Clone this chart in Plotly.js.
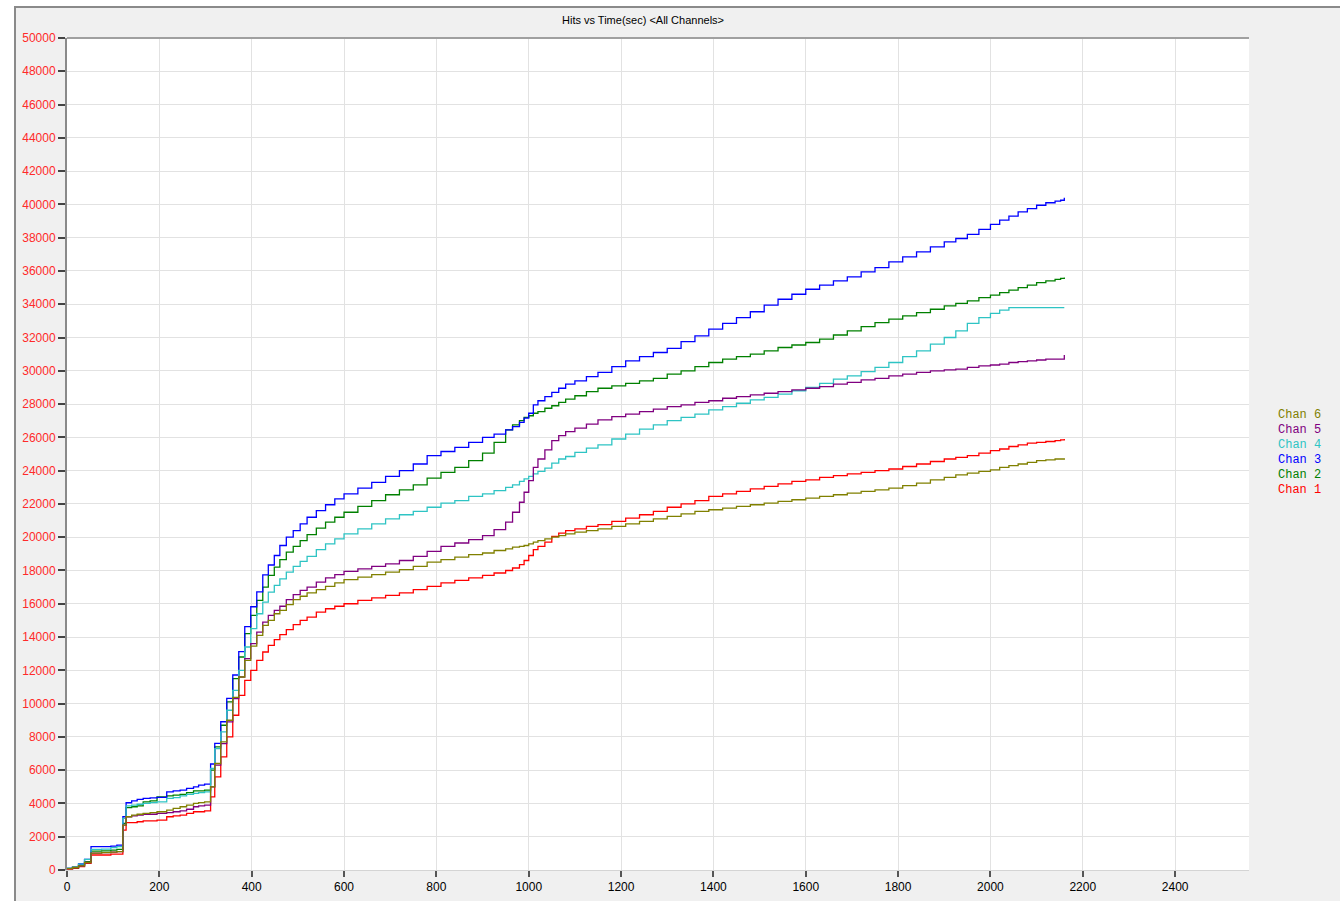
<!DOCTYPE html>
<html>
<head>
<meta charset="utf-8">
<script src="https://cdn.plot.ly/plotly-3.0.1.min.js"></script>
<style>
html,body{margin:0;padding:0;background:#fff;}
#chart{width:1340px;height:901px;}
</style>
</head>
<body>
<div id="chart"></div>
<script>
// Time (sec)
const timeSec = [0,12,25,38,52,75,95,108,121,128,140,152,165,180,195,216,230,245,259,274,285,298,
311,320,333,346,359,372,385,398,411,424,436,449,461,475,490,505,520,540,560,580,600,
630,660,690,720,750,780,810,840,870,900,925,950,965,980,990,1000,1010,1020,1035,1050,1065,1080,1100,
1125,1150,1180,1210,1240,1270,1300,1330,1360,1390,1420,1450,1480,1510,1540,1570,1600,1630,1660,1690,
1720,1750,1780,1810,1840,1870,1900,1925,1950,1975,2000,2020,2040,2060,2080,2100,2120,2140,2152,2160];

const chan1 = [60,100,200,400,900,900,950,960,2400,2850,2850,2900,2950,2950,3000,3200,3250,3300,3400,3500,3500,3550,
4400,5600,6800,8000,9300,10500,11400,12000,12600,13100,13500,13850,14150,14450,14750,15000,15200,15500,15700,15850,16000,
16200,16350,16500,16650,16850,17050,17250,17400,17550,17700,17850,18000,18150,18350,18600,18900,19250,19450,19700,20050,20250,20400,20500,
20650,20750,20950,21150,21350,21550,21800,22000,22200,22450,22600,22750,22900,23050,23200,23350,23450,23600,23700,23800,
23900,24000,24100,24250,24400,24550,24700,24800,24900,25050,25200,25300,25450,25550,25650,25700,25750,25800,25850,25900];

const chan2 = [100,150,300,500,1140,1150,1200,1240,2800,3750,3800,3850,4100,4150,4400,4450,4500,4550,4650,4750,4750,4800,
6000,7400,8700,10100,11500,12800,14200,15300,16200,17000,17700,18200,18650,19100,19450,19800,20150,20550,20900,21200,21500,
21850,22200,22550,22850,23150,23550,23900,24200,24600,25050,25700,26450,26750,27000,27200,27300,27450,27550,27750,27900,28100,28300,28500,
28750,28950,29100,29250,29400,29550,29800,30000,30250,30500,30700,30850,31000,31200,31400,31550,31700,31900,32150,32400,
32650,32900,33100,33300,33500,33700,33900,34050,34200,34400,34550,34700,34850,35000,35150,35300,35400,35500,35550,35600];

const chan3 = [100,200,360,640,1400,1400,1440,1500,3200,4040,4160,4240,4300,4330,4360,4700,4750,4800,4900,5000,5100,5160,
6370,7610,8910,10310,11720,13120,14620,15820,16720,17730,18330,18900,19500,20000,20400,20800,21200,21600,21950,22300,22600,
22950,23300,23650,24000,24400,24900,25150,25400,25700,26000,26200,26450,26650,26900,27150,27450,27950,28200,28450,28700,28950,29200,29400,
29650,29900,30250,30600,30850,31100,31350,31750,32100,32500,32850,33200,33550,33950,34300,34600,34900,35150,35400,35650,
35950,36200,36550,36850,37150,37450,37750,37950,38200,38500,38800,39050,39300,39550,39750,39950,40100,40200,40250,40400];

const chan4 = [100,200,350,640,1240,1250,1350,1400,3100,3850,3900,3950,4000,4050,4100,4300,4350,4450,4550,4600,4650,4700,
6100,7300,8300,9600,10800,12000,13400,14500,15400,16100,16700,17100,17500,17900,18250,18550,18850,19250,19600,19900,20200,
20500,20800,21100,21350,21550,21800,22050,22200,22450,22600,22800,23000,23150,23350,23500,23650,23800,23950,24150,24450,24700,24850,25100,
25350,25550,25900,26200,26500,26750,27000,27200,27400,27650,27850,28050,28250,28400,28600,28800,29000,29250,29500,29700,
29950,30200,30500,30850,31200,31600,32000,32400,32850,33200,33450,33650,33800,33800,33800,33800,33800,33800,33800,33800];

const chan5 = [80,150,250,450,1020,1050,1080,1100,2700,3200,3250,3300,3350,3350,3400,3450,3500,3550,3650,3800,3850,3900,
5000,6300,7600,8900,10300,11600,12700,13600,14300,14900,15300,15600,15850,16250,16550,16800,17000,17300,17550,17750,17950,
18100,18250,18400,18600,18850,19150,19450,19650,19850,20100,20450,20900,21500,22100,22700,23400,24200,24700,25250,25800,26100,26350,26550,
26800,27050,27250,27400,27550,27700,27850,27950,28100,28200,28350,28450,28550,28650,28750,28850,28950,29050,29200,29300,
29450,29550,29700,29800,29900,30000,30050,30100,30200,30300,30350,30400,30500,30550,30600,30650,30700,30700,30700,30950];

const chan6 = [80,150,250,450,1020,1050,1080,1100,2700,3200,3300,3350,3400,3450,3500,3600,3700,3800,3900,4000,4050,4100,
5000,6400,7700,9000,10380,11600,12600,13450,14100,14700,15000,15400,15600,15950,16250,16450,16650,16850,17050,17250,17450,
17600,17750,17900,18050,18250,18500,18650,18800,18950,19050,19200,19300,19400,19450,19500,19600,19700,19800,19900,20000,20100,20200,20300,
20400,20500,20650,20800,20950,21100,21250,21400,21550,21650,21750,21850,21950,22050,22150,22250,22350,22450,22550,22650,
22750,22850,22950,23100,23250,23450,23600,23750,23850,23950,24050,24200,24300,24400,24500,24600,24650,24700,24700,24750];

const seriesNames = ['Chan 1','Chan 2','Chan 3','Chan 4','Chan 5','Chan 6'];
const seriesColors = ['#ff0000','#008000','#0000ff','#2ec4c4','#800080','#808000'];
const seriesData = [chan1, chan2, chan3, chan4, chan5, chan6];

const traces = seriesData.map((ys, i) => ({
  x: timeSec, y: ys, type: 'scatter', mode: 'lines', name: seriesNames[i],
  line: {color: seriesColors[i], width: 1.3, shape: 'hv'}, hoverinfo: 'x+y+name'
}));

// geometry helpers (pixel -> paper) for decorations only
const L = 67, R = 1249, T = 38, B = 870;
const px = x => (x - L) / (R - L);
const py = y => (B - y) / (B - T);

const annotations = [{
  text: 'Hits vs Time(sec) &lt;All Channels&gt;', xref: 'paper', yref: 'paper',
  x: px(643), y: py(20), xanchor: 'center', yanchor: 'middle', showarrow: false,
  font: {family: 'Liberation Sans, Arial, sans-serif', size: 11, color: '#000'}
}];
// legend as coloured text, top to bottom Chan 6 .. Chan 1
for (let k = 5; k >= 0; k--) {
  const row = 5 - k;
  annotations.push({
    text: seriesNames[k], xref: 'paper', yref: 'paper',
    x: px(1276), y: py(415 + row * 15), xanchor: 'left', yanchor: 'middle', showarrow: false,
    font: {family: 'Liberation Mono, Courier New, monospace', size: 12, color: seriesColors[k]}
  });
}

const shapes = [
  // white margins top & left of the widget frame
  {type: 'rect', xref: 'paper', yref: 'paper', x0: px(0), x1: px(1340), y0: py(0), y1: py(6), fillcolor: '#ffffff', line: {width: 0}, layer: 'below'},
  {type: 'rect', xref: 'paper', yref: 'paper', x0: px(0), x1: px(14), y0: py(0), y1: py(901), fillcolor: '#ffffff', line: {width: 0}, layer: 'below'},
  // frame lines
  {type: 'line', xref: 'paper', yref: 'paper', x0: px(14), x1: px(1340), y0: py(7), y1: py(7), line: {color: '#8a8a8a', width: 2}},
  {type: 'line', xref: 'paper', yref: 'paper', x0: px(15), x1: px(15), y0: py(7), y1: py(901), line: {color: '#8a8a8a', width: 2}},
  // plot top border
  {type: 'line', xref: 'paper', yref: 'paper', x0: 0, x1: 1, y0: 1, y1: 1, line: {color: '#a0a0a0', width: 2}}
];

const layout = {
  width: 1340, height: 901,
  margin: {l: L, r: 1340 - R, t: T, b: 901 - B, pad: 0},
  paper_bgcolor: '#f0f0f0', plot_bgcolor: '#ffffff',
  showlegend: false,
  font: {family: 'Liberation Sans, Arial, sans-serif', size: 12, color: '#000'},
  xaxis: {
    range: [0, 2560], dtick: 200, tick0: 0, showgrid: true, gridcolor: '#e2e2e2', gridwidth: 1,
    zeroline: false, showline: true, linecolor: '#d4d4d4', linewidth: 1,
    ticks: 'outside', ticklen: 6, tickwidth: 2, tickcolor: '#555555',
    tickfont: {family: 'Liberation Sans, Arial, sans-serif', size: 12, color: '#000'}
  },
  yaxis: {
    range: [0, 50000], dtick: 2000, tick0: 0, showgrid: true, gridcolor: '#e2e2e2', gridwidth: 1,
    zeroline: false, showline: true, linecolor: '#8a8a8a', linewidth: 2,
    ticks: 'outside', ticklen: 7, tickwidth: 1.5, tickcolor: '#444444',
    tickfont: {family: 'Liberation Sans, Arial, sans-serif', size: 12, color: '#ff2a2a'},
    tickformat: 'd'
  },
  annotations: annotations,
  shapes: shapes
};

Plotly.newPlot('chart', traces, layout, {displayModeBar: false, staticPlot: false});
</script>
</body>
</html>
